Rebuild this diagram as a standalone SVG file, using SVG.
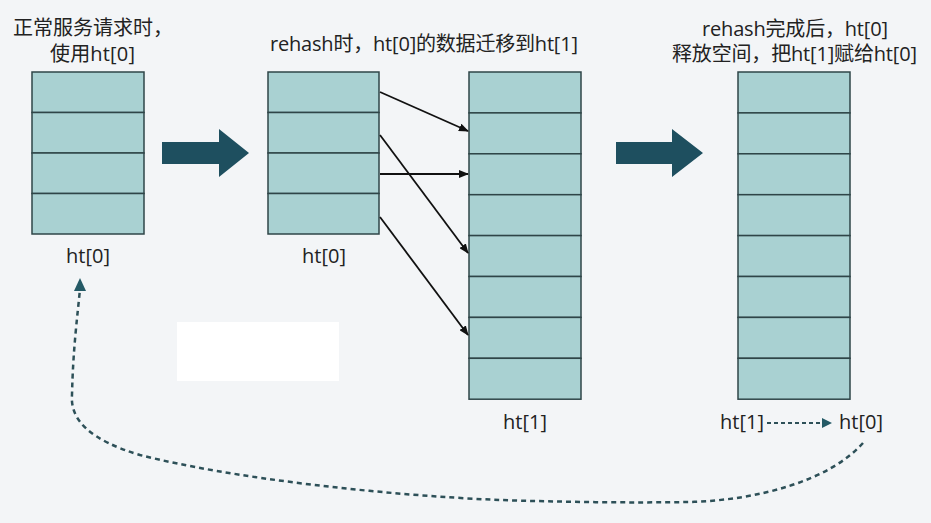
<svg xmlns="http://www.w3.org/2000/svg" width="931" height="523" viewBox="0 0 931 523">
<defs>
<style>
.cell{fill:#a9d1d2;stroke:#2f4548;stroke-width:1.5}
.t{font-family:"Open Sans","Noto Sans CJK SC",sans-serif;font-size:20px;fill:#222;text-anchor:middle}
.s{text-anchor:start}
.big{fill:#1e4f5f}
.mv{stroke:#111;stroke-width:1.8;fill:none;marker-end:url(#ah)}
.dash{stroke:#2d5058;stroke-width:2.5;fill:none;stroke-dasharray:5 4}
</style>
<marker id="ah" markerWidth="10" markerHeight="8" refX="9" refY="4" orient="auto" markerUnits="userSpaceOnUse">
<path d="M0,0 L10,4 L0,8 Z" fill="#111"/>
</marker>
</defs>
<rect width="931" height="523" fill="#f3f5f7"/>

<g id="title-left">
<text class="t s" x="13" y="35">正常服务请求时，</text>
<text class="t s" x="50" y="61" textLength="85">使用ht[0]</text>
</g>
<g id="title-mid">
<text class="t s" x="270" y="51" textLength="308">rehash时，ht[0]的数据迁移到ht[1]</text>
</g>
<g id="title-right">
<text class="t s" x="702" y="36" textLength="186">rehash完成后，ht[0]</text>
<text class="t s" x="672" y="61" textLength="245">释放空间，把ht[1]赋给ht[0]</text>
</g>

<g id="ht0-normal">
<rect class="cell" x="32" y="72" width="112" height="40.5"/>
<rect class="cell" x="32" y="112.5" width="112" height="40.5"/>
<rect class="cell" x="32" y="153" width="112" height="40.5"/>
<rect class="cell" x="32" y="193.5" width="112" height="40.5"/>
<text class="t" x="88" y="263">ht[0]</text>
</g>

<g id="ht0-rehash">
<rect class="cell" x="268" y="72" width="111" height="40.5"/>
<rect class="cell" x="268" y="112.5" width="111" height="40.5"/>
<rect class="cell" x="268" y="153" width="111" height="40.5"/>
<rect class="cell" x="268" y="193.5" width="111" height="40.5"/>
<text class="t" x="324" y="263">ht[0]</text>
</g>

<g id="ht1-rehash">
<rect class="cell" x="469" y="72" width="112" height="40.9"/>
<rect class="cell" x="469" y="112.9" width="112" height="40.9"/>
<rect class="cell" x="469" y="153.8" width="112" height="40.9"/>
<rect class="cell" x="469" y="194.7" width="112" height="40.9"/>
<rect class="cell" x="469" y="235.6" width="112" height="40.9"/>
<rect class="cell" x="469" y="276.5" width="112" height="40.9"/>
<rect class="cell" x="469" y="317.4" width="112" height="40.9"/>
<rect class="cell" x="469" y="358.3" width="112" height="40.9"/>
<text class="t" x="525" y="429">ht[1]</text>
</g>

<g id="ht-final">
<rect class="cell" x="738" y="72" width="112" height="40.9"/>
<rect class="cell" x="738" y="112.9" width="112" height="40.9"/>
<rect class="cell" x="738" y="153.8" width="112" height="40.9"/>
<rect class="cell" x="738" y="194.7" width="112" height="40.9"/>
<rect class="cell" x="738" y="235.6" width="112" height="40.9"/>
<rect class="cell" x="738" y="276.5" width="112" height="40.9"/>
<rect class="cell" x="738" y="317.4" width="112" height="40.9"/>
<rect class="cell" x="738" y="358.3" width="112" height="40.9"/>
<text class="t" x="742" y="429">ht[1]</text>
<text class="t" x="861" y="429">ht[0]</text>
</g>

<g id="blank">
<rect x="177" y="322" width="162" height="59" fill="#ffffff"/>
</g>

<g id="connectors">
<polygon class="big" points="162,142 219,142 219,129 249,153 219,177 219,164 162,164"/>
<polygon class="big" points="616,142 672,142 672,129 703,153 672,177 672,164 616,164"/>
<line class="mv" x1="380" y1="92" x2="468" y2="131"/>
<line class="mv" x1="380" y1="135" x2="468" y2="253"/>
<line class="mv" x1="380" y1="174" x2="468" y2="174"/>
<line class="mv" x1="380" y1="217" x2="468" y2="335"/>
<line x1="767" y1="423" x2="822" y2="423" stroke="#2d5058" stroke-width="2" stroke-dasharray="4 3"/>
<path d="M822,418 L832,423 L822,428 Z" fill="#245a66"/>
<path class="dash" d="M863,443 C830,480 760,500 690,502 C630,503 560,502 500,500 C380,495 230,478 140,455 C90,440 70,420 72,395 C73,350 77,320 80,289"/>
<path d="M80,278 L86,291 L74,291 Z" fill="#245a66"/>
</g>
</svg>
